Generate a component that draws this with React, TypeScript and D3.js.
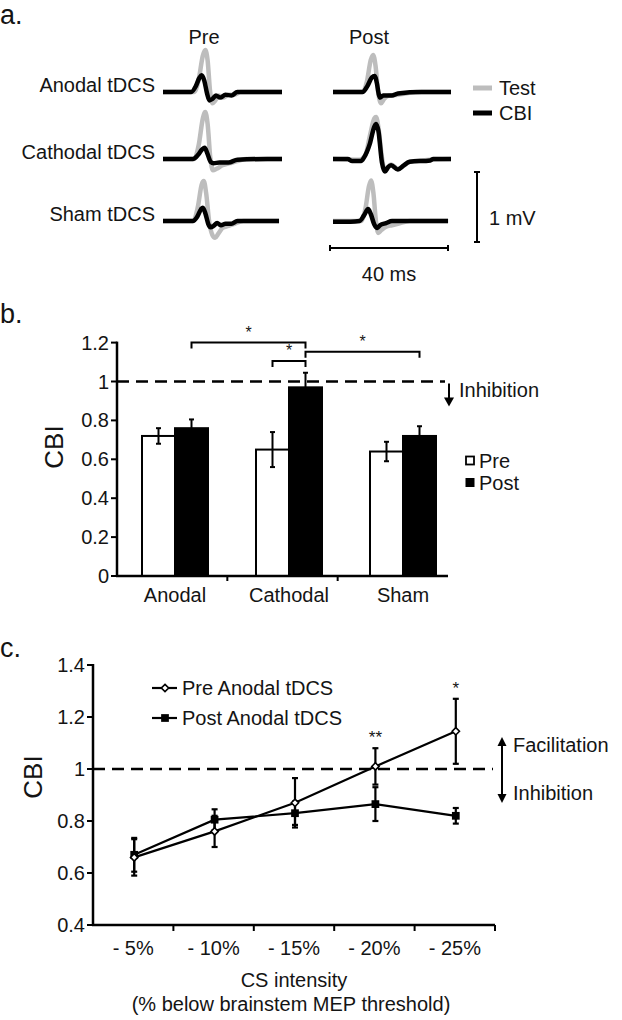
import React from "react";
import * as d3 from "d3";

// ---------- Panel a: traces (time ms, amplitude mV) ----------
const traceRows = ["Anodal tDCS", "Cathodal tDCS", "Sham tDCS"];
const preAnodalTest = [[0,0],[10.5,0],[12,0.18],[13.4,0.52],[14.2,0.6],[15,0.45],[15.8,0.02],[16.6,-0.16],[17.6,-0.12],[18.8,-0.05],[20.2,-0.08],[22,-0.04],[24,-0.04],[26,0],[40,0]];
const preAnodalCBI = [[0,0],[9.5,0],[11,0.08],[12.2,0.2],[13,0.24],[13.9,0.16],[14.8,-0.02],[15.6,-0.12],[16.6,-0.1],[17.8,-0.05],[19.2,-0.08],[21,-0.04],[23,-0.05],[25,0],[40,0]];
const preCathodalTest = [[0,0],[10.5,0],[12,0.2],[13.4,0.58],[14.2,0.67],[15,0.5],[15.9,0.02],[16.8,-0.16],[18,-0.14],[20,-0.09],[22.5,-0.06],[25,-0.03],[28,0],[40,0]];
const preCathodalCBI = [[0,0],[10,0],[11.8,0.06],[13.2,0.14],[14,0.16],[14.9,0.08],[16,-0.04],[17,-0.06],[19,-0.05],[22,-0.05],[25,-0.01],[35,0],[40,0]];
const preShamTest = [[0,0],[10.2,0],[11.7,0.2],[13,0.52],[13.7,0.57],[14.5,0.4],[15.5,0],[16.6,-0.2],[17.5,-0.24],[18.6,-0.18],[20,-0.1],[22,-0.07],[24,-0.04],[27,0],[39,0]];
const preShamCBI = [[0,0],[10,0],[11.5,0.06],[12.8,0.17],[13.4,0.19],[14.3,0.1],[15.2,-0.04],[16,-0.09],[17,-0.07],[18.2,-0.03],[19.5,-0.06],[21,-0.04],[23,-0.04],[25,0],[39,0]];
const postAnodalTest = [[0,0],[10,0],[11.5,0.15],[12.8,0.46],[13.6,0.53],[14.4,0.38],[15.3,0],[16.3,-0.16],[17.3,-0.1],[19,-0.05],[22,-0.04],[25,-0.02],[28,0],[40,0]];
const postAnodalCBI = [[0,0],[10,0],[11.6,0.08],[13.2,0.21],[14.1,0.23],[14.9,0.12],[15.5,-0.03],[16,-0.08],[17,-0.05],[20,-0.05],[22,-0.02],[30,0],[40,0]];
const postCathodalTest = [[0,0],[9,-0.01],[11,0.06],[12.6,0.35],[14,0.58],[14.6,0.6],[15.4,0.45],[16.5,0.05],[17.6,-0.17],[19.7,-0.08],[22,-0.14],[26,-0.04],[30,-0.02],[40,0]];
const postCathodalCBI = [[0,0],[5,0],[6.5,-0.03],[9.5,-0.03],[10.5,0.02],[12.5,0.22],[14,0.46],[14.6,0.5],[15.4,0.4],[16.6,-0.05],[17.6,-0.18],[18.6,-0.12],[19.7,-0.09],[22,-0.15],[24,-0.09],[26,-0.04],[33,-0.02],[34,0],[40,0]];
const postShamTest = [[0,0],[9.5,0],[11,0.18],[12.2,0.5],[12.9,0.58],[13.7,0.4],[14.5,0.02],[15.3,-0.17],[16.4,-0.13],[18,-0.08],[20,-0.06],[22,-0.04],[26,0],[39,0]];
const postShamCBI = [[0,-0.01],[6,-0.01],[9,0],[10.5,0.08],[11.9,0.17],[12.8,0.1],[14,-0.05],[15,-0.1],[16,-0.06],[18,-0.03],[20,0],[39,0]];

const preTraces = [
  { test: preAnodalTest, cbi: preAnodalCBI },
  { test: preCathodalTest, cbi: preCathodalCBI },
  { test: preShamTest, cbi: preShamCBI },
];
const postTraces = [
  { test: postAnodalTest, cbi: postAnodalCBI },
  { test: postCathodalTest, cbi: postCathodalCBI },
  { test: postShamTest, cbi: postShamCBI },
];

// ---------- Panel b ----------
const groups = ["Anodal", "Cathodal", "Sham"];
const conditions = ["Pre", "Post"];
const preMeans = [0.72, 0.65, 0.64];
const preErr = [0.04, 0.09, 0.05];
const postMeans = [0.76, 0.97, 0.72];
const postErr = [0.045, 0.075, 0.05];
const bTicks = [0, 0.2, 0.4, 0.6, 0.8, 1, 1.2];
const comparisons = [
  { a: ["Anodal", "Post"], b: ["Cathodal", "Post"], level: 1.2, label: "*" },
  { a: ["Cathodal", "Pre"], b: ["Cathodal", "Post"], level: 1.105, label: "*" },
  { a: ["Cathodal", "Post"], b: ["Sham", "Post"], level: 1.153, label: "*" },
];

// ---------- Panel c ----------
const intensities = ["- 5%", "- 10%", "- 15%", "- 20%", "- 25%"];
const cPreMeans = [0.66, 0.76, 0.87, 1.01, 1.145];
const cPreErr = [0.07, 0.06, 0.095, 0.07, 0.125];
const cPostMeans = [0.67, 0.805, 0.83, 0.865, 0.82];
const cPostErr = [0.065, 0.04, 0.045, 0.065, 0.03];
const cSig = ["", "", "", "**", "*"];
const cTicks = [0.4, 0.6, 0.8, 1, 1.2, 1.4];

const FONT = "'Liberation Sans', Arial, sans-serif";
const INK = "#141414";

export default function App() {
  // ---- panel a scales ----
  const preX = d3.scaleLinear().domain([0, 40]).range([163, 282]);
  const postX = d3.scaleLinear().domain([0, 40]).range([333, 451]);
  const rowY = d3.scaleOrdinal<string, number>().domain(traceRows).range([92, 159, 221]);
  const mvPx = d3.scaleLinear().domain([0, 1]).range([0, 70]);

  const traceLine = (xs: d3.ScaleLinear<number, number>, base: number) =>
    d3
      .line<number[]>()
      .x((d) => xs(d[0]))
      .y((d) => base - mvPx(d[1]))
      .curve(d3.curveMonotoneX);

  // ---- panel b scales ----
  const bY = d3.scaleLinear().domain([0, 1.2]).range([576, 342.6]);
  const bAxisX = d3.scaleBand().domain(groups).range([117, 448]);
  const bX = d3.scaleBand().domain(groups).range([118, 460]);
  const bSub = d3.scaleBand().domain(conditions).range([24, 90]);
  const barCenter = (g: string, c: string) => (bX(g) as number) + (bSub(c) as number) + bSub.bandwidth() / 2;

  // ---- panel c scales ----
  const cY = d3.scaleLinear().domain([0.4, 1.4]).range([925, 665]);
  const cX = d3.scaleBand().domain(intensities).range([93, 495]);
  const cCx = (d: string) => (cX(d) as number) + cX.bandwidth() / 2 + 1;
  const cLine = d3
    .line<[string, number]>()
    .x((d) => cCx(d[0]))
    .y((d) => cY(d[1]));
  const prePts = intensities.map((d, i) => [d, cPreMeans[i]] as [string, number]);
  const postPts = intensities.map((d, i) => [d, cPostMeans[i]] as [string, number]);
  const diamond = d3.symbol().type(d3.symbolDiamond2).size(34)() as string;
  const square = d3.symbol().type(d3.symbolSquare).size(60)() as string;

  const txt = { fontFamily: FONT, fill: INK } as React.CSSProperties;

  return (
    <svg
      width={622}
      height={1020}
      style={{ position: "absolute", left: 0, top: 0, background: "#fff" }}
      fontFamily={FONT}
    >
      <rect width={622} height={1020} fill="#fff" />
      {/* ================= Panel a ================= */}
      <text x={0} y={24} fontSize={27} style={txt}>a.</text>
      <text x={204} y={37} fontSize={20} textAnchor="middle" dominantBaseline="central" style={txt}>Pre</text>
      <text x={369} y={37} fontSize={20} textAnchor="middle" dominantBaseline="central" style={txt}>Post</text>
      {traceRows.map((r) => (
        <text key={r} x={155} y={rowY(r) - 7} fontSize={20} textAnchor="end" dominantBaseline="central" style={txt}>
          {r}
        </text>
      ))}
      {traceRows.map((r, i) => {
        const base = rowY(r);
        return (
          <g key={"tr" + r}>
            <path d={traceLine(preX, base)(preTraces[i].test as number[][]) || ""} fill="none" stroke="#bdbdbd" strokeWidth={4.5} strokeLinejoin="round" />
            <path d={traceLine(preX, base)(preTraces[i].cbi as number[][]) || ""} fill="none" stroke="#000" strokeWidth={4.5} strokeLinejoin="round" />
            <path d={traceLine(postX, base)(postTraces[i].test as number[][]) || ""} fill="none" stroke="#bdbdbd" strokeWidth={4.5} strokeLinejoin="round" />
            <path d={traceLine(postX, base)(postTraces[i].cbi as number[][]) || ""} fill="none" stroke="#000" strokeWidth={4.5} strokeLinejoin="round" />
          </g>
        );
      })}
      {/* legend a */}
      <line x1={473} x2={492} y1={88} y2={88} stroke="#bdbdbd" strokeWidth={5} />
      <text x={499} y={88} fontSize={20} dominantBaseline="central" style={txt}>Test</text>
      <line x1={473} x2={492} y1={113} y2={113} stroke="#000" strokeWidth={5} />
      <text x={499} y={113} fontSize={20} dominantBaseline="central" style={txt}>CBI</text>
      {/* scale bars */}
      <g stroke="#000" strokeWidth={2}>
        <line x1={477} x2={477} y1={242} y2={242 - mvPx(1)} />
        <line x1={474} x2={480} y1={242} y2={242} />
        <line x1={474} x2={480} y1={242 - mvPx(1)} y2={242 - mvPx(1)} />
        <line x1={330} x2={330 + postX(40) - postX(0)} y1={248} y2={248} />
        <line x1={330} x2={330} y1={245} y2={251} />
        <line x1={330 + postX(40) - postX(0)} x2={330 + postX(40) - postX(0)} y1={245} y2={251} />
      </g>
      <text x={489} y={218} fontSize={20} dominantBaseline="central" style={txt}>1 mV</text>
      <text x={389} y={274} fontSize={20} textAnchor="middle" dominantBaseline="central" style={txt}>40 ms</text>

      {/* ================= Panel b ================= */}
      <text x={0} y={323} fontSize={27} style={txt}>b.</text>
      <text transform={`translate(54,447) rotate(-90)`} fontSize={26} textAnchor="middle" dominantBaseline="central" style={txt}>CBI</text>
      {bTicks.map((t) => (
        <g key={"bt" + t}>
          <line x1={111} x2={117} y1={bY(t)} y2={bY(t)} stroke="#000" strokeWidth={2} />
          <text x={109} y={bY(t)} fontSize={20} textAnchor="end" dominantBaseline="central" style={txt}>{t}</text>
        </g>
      ))}
      {/* bars */}
      {groups.map((g, i) =>
        conditions.map((c) => {
          const m = c === "Pre" ? preMeans[i] : postMeans[i];
          const x = (bX(g) as number) + (bSub(c) as number);
          return (
            <rect key={g + c} x={x} y={bY(m)} width={bSub.bandwidth()} height={bY(0) - bY(m)} fill={c === "Pre" ? "#fff" : "#000"} stroke="#000" strokeWidth={2} />
          );
        })
      )}
      {/* error bars */}
      {groups.map((g, i) =>
        conditions.map((c) => {
          const m = c === "Pre" ? preMeans[i] : postMeans[i];
          const e = c === "Pre" ? preErr[i] : postErr[i];
          const cx = barCenter(g, c);
          return (
            <g key={"e" + g + c} stroke="#000" strokeWidth={2}>
              <line x1={cx} x2={cx} y1={bY(m + e)} y2={bY(m - e)} />
              <line x1={cx - 2.5} x2={cx + 2.5} y1={bY(m + e)} y2={bY(m + e)} />
              <line x1={cx - 2.5} x2={cx + 2.5} y1={bY(m - e)} y2={bY(m - e)} />
            </g>
          );
        })
      )}
      {/* dashed line */}
      <line x1={117} x2={445} y1={bY(1)} y2={bY(1)} stroke="#000" strokeWidth={2.5} strokeDasharray="12 7" />
      {/* axes */}
      <line x1={117} x2={117} y1={bY(1.2) - 1} y2={bY(0)} stroke="#000" strokeWidth={2.5} />
      <line x1={116} x2={448} y1={bY(0)} y2={bY(0)} stroke="#000" strokeWidth={2.5} />
      {groups.slice(1).map((g) => (
        <line key={"bxt" + g} x1={bAxisX(g)} x2={bAxisX(g)} y1={bY(0)} y2={bY(0) + 5} stroke="#000" strokeWidth={2} />
      ))}
      {groups.map((g) => (
        <text key={"bx" + g} x={(bX(g) as number) + bX.bandwidth() / 2} y={595} fontSize={20} textAnchor="middle" dominantBaseline="central" style={txt}>{g}</text>
      ))}
      {/* significance brackets */}
      {comparisons.map((s, i) => {
        const x1 = barCenter(s.a[0], s.a[1]);
        const x2 = barCenter(s.b[0], s.b[1]);
        const y = bY(s.level);
        return (
          <g key={"sig" + i}>
            <path d={`M${x1},${y + 6}V${y}H${x2}V${y + 6}`} fill="none" stroke="#000" strokeWidth={2} />
            <text x={(x1 + x2) / 2} y={y - 5} fontSize={16} textAnchor="middle" style={txt}>{s.label}</text>
          </g>
        );
      })}
      {/* inhibition arrow */}
      <line x1={449} x2={449} y1={bY(1) + 2} y2={bY(1) + 18} stroke="#000" strokeWidth={2} />
      <path d={`M444,${bY(1) + 16}L454,${bY(1) + 16}L449,${bY(1) + 25}Z`} fill="#000" />
      <text x={459} y={390} fontSize={20} dominantBaseline="central" style={txt}>Inhibition</text>
      {/* legend b */}
      <rect x={466} y={456.5} width={8} height={8} fill="#fff" stroke="#000" strokeWidth={1.8} />
      <text x={479} y={461} fontSize={20} dominantBaseline="central" style={txt}>Pre</text>
      <rect x={465.5} y={478} width={9} height={9} fill="#000" />
      <text x={479} y={483} fontSize={20} dominantBaseline="central" style={txt}>Post</text>

      {/* ================= Panel c ================= */}
      <text x={0} y={657} fontSize={27} style={txt}>c.</text>
      <text transform={`translate(33,777) rotate(-90)`} fontSize={26} textAnchor="middle" dominantBaseline="central" style={txt}>CBI</text>
      {cTicks.map((t) => (
        <g key={"ct" + t}>
          <line x1={87} x2={93} y1={cY(t)} y2={cY(t)} stroke="#000" strokeWidth={2} />
          <text x={85} y={cY(t)} fontSize={20} textAnchor="end" dominantBaseline="central" style={txt}>{t}</text>
        </g>
      ))}
      <line x1={93} x2={493} y1={cY(1)} y2={cY(1)} stroke="#000" strokeWidth={2.5} strokeDasharray="12 7" />
      <line x1={93} x2={93} y1={cY(1.4) - 1} y2={cY(0.4)} stroke="#000" strokeWidth={2.5} />
      <line x1={92} x2={495} y1={cY(0.4)} y2={cY(0.4)} stroke="#000" strokeWidth={2.5} />
      {intensities.map((d) => (
        <line key={"cxt" + d} x1={(cX(d) as number) + cX.bandwidth()} x2={(cX(d) as number) + cX.bandwidth()} y1={cY(0.4)} y2={cY(0.4) + 6} stroke="#000" strokeWidth={2} />
      ))}
      {intensities.map((d) => (
        <text key={"cx" + d} x={(cX(d) as number) + cX.bandwidth() / 2} y={948} fontSize={20} textAnchor="middle" dominantBaseline="central" style={txt}>{d}</text>
      ))}
      <text x={294} y={980} fontSize={20} textAnchor="middle" dominantBaseline="central" style={txt}>CS intensity</text>
      <text x={291} y={1004} fontSize={20} textAnchor="middle" dominantBaseline="central" style={txt}>(% below brainstem MEP threshold)</text>
      {/* lines */}
      <path d={cLine(prePts) || ""} fill="none" stroke="#000" strokeWidth={2.2} />
      <path d={cLine(postPts) || ""} fill="none" stroke="#000" strokeWidth={2.2} />
      {/* error bars */}
      {intensities.map((d, i) => {
        const cx = cCx(d);
        return (
          <g key={"ce" + d} stroke="#000" strokeWidth={2.2}>
            <line x1={cx} x2={cx} y1={cY(cPreMeans[i] + cPreErr[i])} y2={cY(cPreMeans[i] - cPreErr[i])} />
            <line x1={cx - 3} x2={cx + 3} y1={cY(cPreMeans[i] + cPreErr[i])} y2={cY(cPreMeans[i] + cPreErr[i])} />
            <line x1={cx - 3} x2={cx + 3} y1={cY(cPreMeans[i] - cPreErr[i])} y2={cY(cPreMeans[i] - cPreErr[i])} />
            <line x1={cx} x2={cx} y1={cY(cPostMeans[i] + cPostErr[i])} y2={cY(cPostMeans[i] - cPostErr[i])} />
            <line x1={cx - 3} x2={cx + 3} y1={cY(cPostMeans[i] + cPostErr[i])} y2={cY(cPostMeans[i] + cPostErr[i])} />
            <line x1={cx - 3} x2={cx + 3} y1={cY(cPostMeans[i] - cPostErr[i])} y2={cY(cPostMeans[i] - cPostErr[i])} />
          </g>
        );
      })}
      {intensities.map((d, i) => (
        <g key={"cm" + d}>
          <path d={square} transform={`translate(${cCx(d)},${cY(cPostMeans[i])})`} fill="#000" />
          <path d={diamond} transform={`translate(${cCx(d)},${cY(cPreMeans[i])})`} fill="#fff" stroke="#000" strokeWidth={1.6} />
        </g>
      ))}
      {intensities.map((d, i) =>
        cSig[i] ? (
          <text key={"cs" + d} x={cCx(d)} y={cY(cPreMeans[i] + cPreErr[i]) - 5} fontSize={17} textAnchor="middle" style={txt}>{cSig[i]}</text>
        ) : null
      )}
      {/* legend c */}
      <line x1={152} x2={177} y1={688} y2={688} stroke="#000" strokeWidth={2.2} />
      <path d={diamond} transform="translate(165,688)" fill="#fff" stroke="#000" strokeWidth={1.6} />
      <text x={182} y={688} fontSize={20} dominantBaseline="central" style={txt}>Pre Anodal tDCS</text>
      <line x1={152} x2={177} y1={718} y2={718} stroke="#000" strokeWidth={2.2} />
      <path d={square} transform="translate(165,718)" fill="#000" />
      <text x={182} y={718} fontSize={20} dominantBaseline="central" style={txt}>Post Anodal tDCS</text>
      {/* double arrow */}
      <line x1={502} x2={502} y1={744} y2={796} stroke="#000" strokeWidth={2} />
      <path d="M497.5,746L506.5,746L502,737Z" fill="#000" />
      <path d="M497.5,794L506.5,794L502,803Z" fill="#000" />
      <text x={513} y={745} fontSize={20} dominantBaseline="central" style={txt}>Facilitation</text>
      <text x={513} y={793} fontSize={20} dominantBaseline="central" style={txt}>Inhibition</text>
    </svg>
  );
}
